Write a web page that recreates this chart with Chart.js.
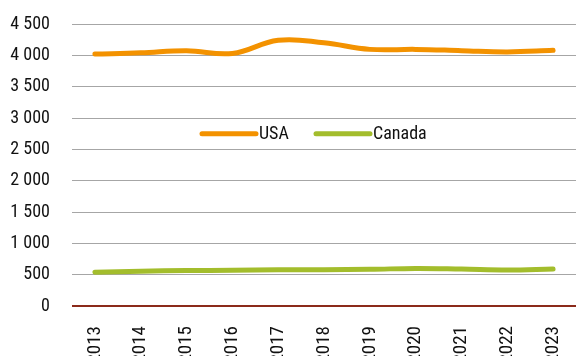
<!DOCTYPE html>
<html>
<head>
<meta charset="utf-8">
<script src="https://cdn.jsdelivr.net/npm/chart.js@4/dist/chart.umd.min.js"></script>
<style>
  html, body { margin: 0; padding: 0; background: #fff; overflow: hidden; }
  #wrap { width: 576px; height: 356px; }
</style>
</head>
<body>
<div id="wrap"><canvas id="lineChart"></canvas></div>
<script>
var years = ['2013', '2014', '2015', '2016', '2017', '2018', '2019', '2020', '2021', '2022', '2023'];
var usa = [4020, 4040, 4075, 4030, 4240, 4200, 4095, 4095, 4075, 4055, 4080];
var canada = [540, 555, 565, 570, 580, 580, 585, 600, 590, 575, 590];
var yTicks = [0, 500, 1000, 1500, 2000, 2500, 3000, 3500, 4000, 4500];

var FONT = '"Roboto Condensed", "Open Sans", sans-serif';

function fmt(v) {
  return String(v).replace(/\B(?=(\d{3})+(?!\d))/g, ' ');
}

// legend sits inside the plot, between the 3000 and 2500 lines
var innerLegend = {
  id: 'innerLegend',
  afterDraw: function(chart) {
    var ctx = chart.ctx;
    var y = chart.scales.y.getPixelForValue(2750);
    var items = [
      { x: 202, label: 'USA', color: chart.data.datasets[0].borderColor },
      { x: 316, label: 'Canada', color: chart.data.datasets[1].borderColor }
    ];
    ctx.save();
    ctx.font = '18px ' + FONT;
    ctx.textBaseline = 'middle';
    items.forEach(function(it) {
      ctx.strokeStyle = it.color;
      ctx.lineWidth = 5;
      ctx.lineCap = 'round';
      ctx.beginPath();
      ctx.moveTo(it.x, y);
      ctx.lineTo(it.x + 54, y);
      ctx.stroke();
      ctx.fillStyle = '#111';
      ctx.fillText(it.label, it.x + 57, y + 1);
    });
    ctx.restore();
  }
};

var ctxL = document.getElementById('lineChart').getContext('2d');
var chart = new Chart(ctxL, {
  type: 'line',
  data: {
    labels: years,
    datasets: [{
        label: 'USA',
        data: usa,
        borderColor: '#f39200',
        borderWidth: 5,
        tension: 0.4,
        pointRadius: 0,
        borderCapStyle: 'round'
      },
      {
        label: 'Canada',
        data: canada,
        borderColor: '#a3bd2c',
        borderWidth: 5,
        tension: 0.4,
        pointRadius: 0,
        borderCapStyle: 'round'
      }
    ]
  },
  options: {
    responsive: true,
    maintainAspectRatio: false,
    animation: false,
    layout: { padding: { top: 24, right: 0, left: 0, bottom: 0 } },
    plugins: {
      legend: { display: false },
      tooltip: { enabled: false }
    },
    scales: {
      x: {
        offset: true,
        grid: { display: false },
        border: { display: false },
        ticks: {
          color: '#111',
          font: { family: FONT, size: 19 },
          minRotation: 90,
          maxRotation: 90,
          padding: 12,
          autoSkip: false
        },
        afterFit: function(scale) {
          scale.height = 50;
          scale.paddingLeft = 0;
          scale.paddingRight = 0;
        }
      },
      y: {
        min: 0,
        max: 4500,
        afterBuildTicks: function(scale) {
          scale.ticks = yTicks.map(function(v) { return { value: v }; });
        },
        grid: {
          drawTicks: false,
          color: function(c) { return c.tick && c.tick.value === 0 ? '#8b2a1a' : '#a6a6a6'; },
          lineWidth: function(c) { return c.tick && c.tick.value === 0 ? 2 : 1; }
        },
        border: { display: false },
        ticks: {
          color: '#111',
          font: { family: FONT, size: 18 },
          padding: 22,
          callback: function(v) { return fmt(v); }
        },
        afterFit: function(scale) {
          scale.width = 72;
          scale.paddingTop = 0;
          scale.paddingBottom = 0;
        }
      }
    }
  },
  plugins: [innerLegend]
});
</script>
</body>
</html>
